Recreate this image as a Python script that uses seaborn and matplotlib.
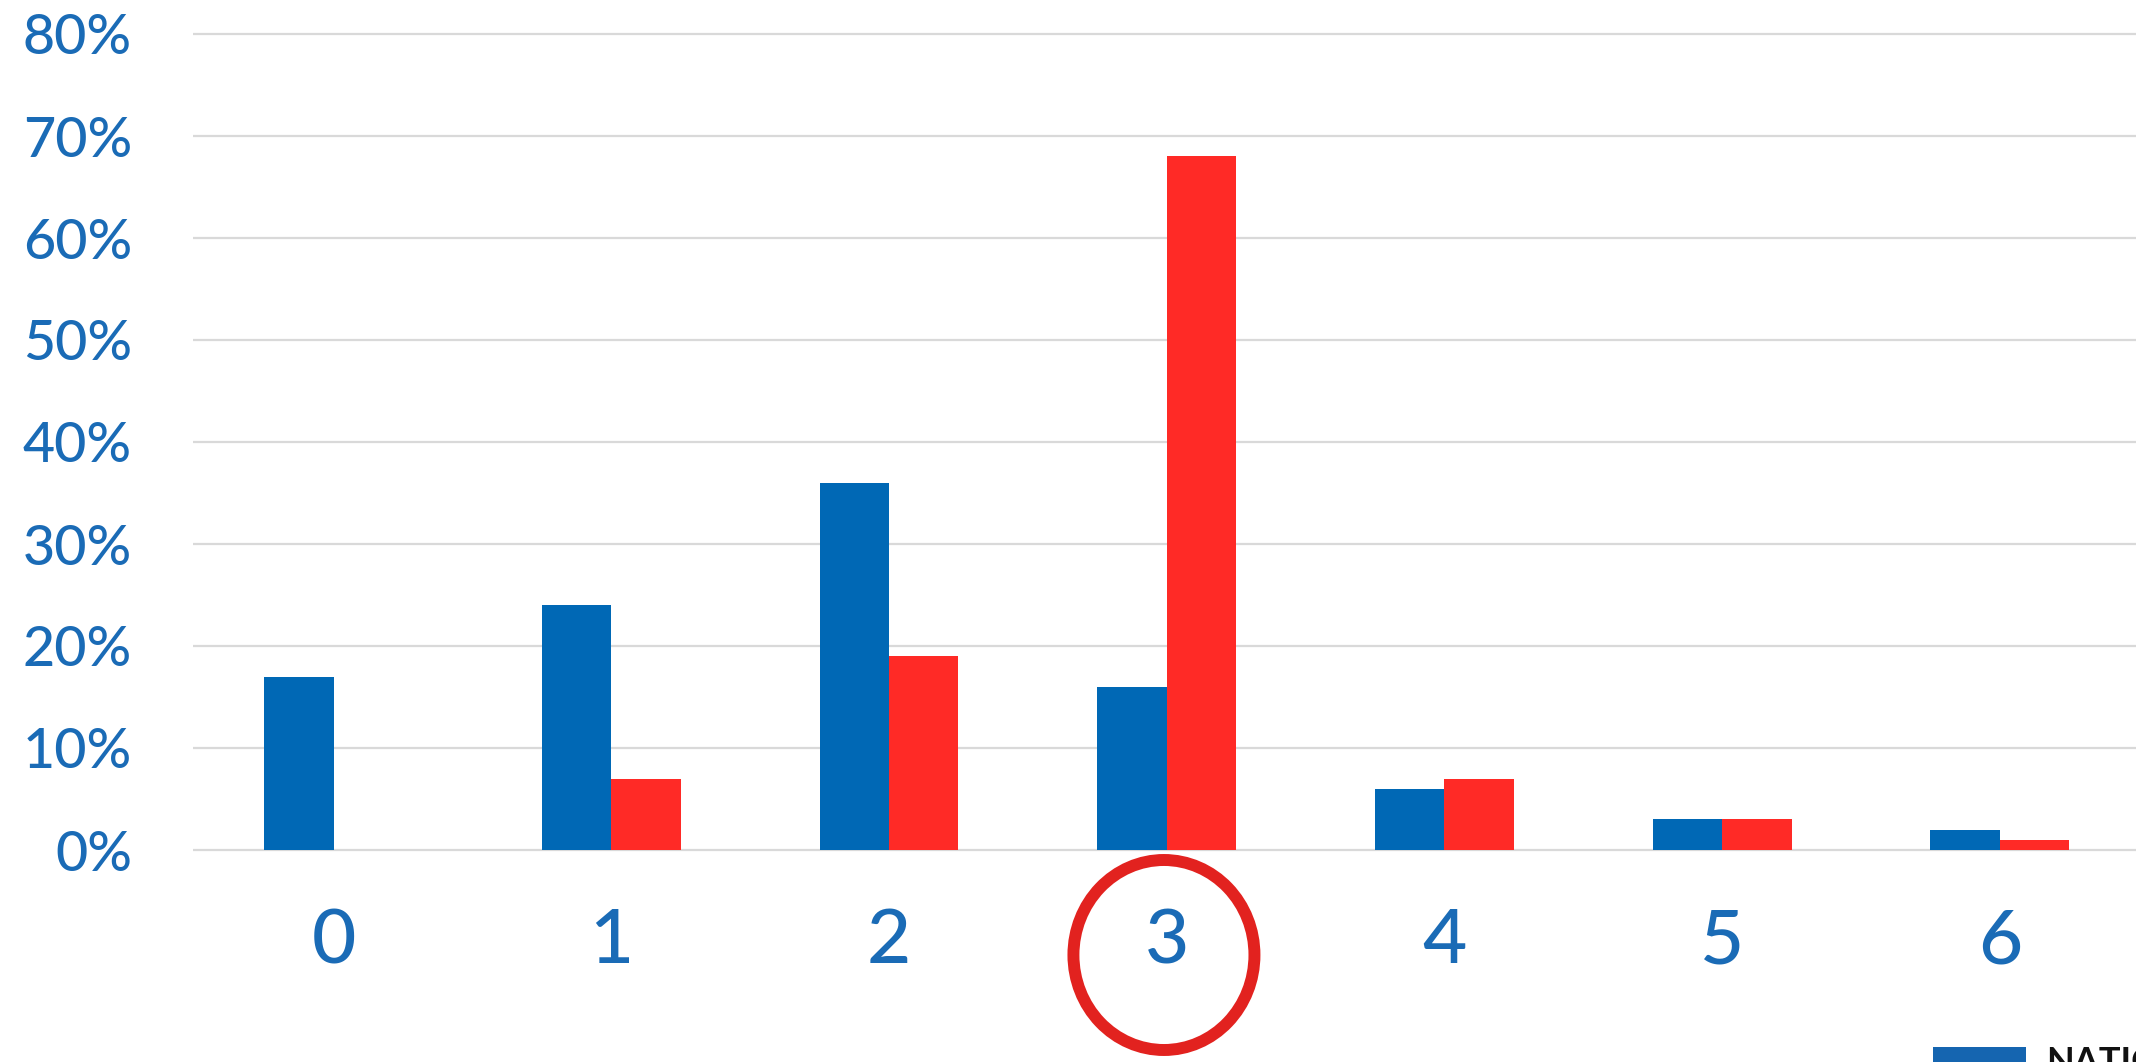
import matplotlib
matplotlib.use("Agg")
import matplotlib.pyplot as plt
import matplotlib.transforms as mtransforms
from matplotlib.patches import Ellipse, Rectangle
import pandas as pd
import seaborn as sns

# Category labels along the x axis
categories = ["0", "1", "2", "3", "4", "5", "6"]
# Shares per category for the two series
blue_values = [0.17, 0.24, 0.36, 0.16, 0.06, 0.03, 0.02]
red_values = [0.00, 0.07, 0.19, 0.68, 0.07, 0.03, 0.01]
series_names = ["first", "second"]
y_ticks = [0.0, 0.1, 0.2, 0.3, 0.4, 0.5, 0.6, 0.7, 0.8]
y_tick_labels = ["0%", "10%", "20%", "30%", "40%", "50%", "60%", "70%", "80%"]
highlight_category = "3"
logo_text = "NATIONAL"

BLUE = "#0068B5"
RED = "#FF2A26"
LABEL_BLUE = "#1A6BB6"
GRID = "#D9D9D9"
CIRCLE_RED = "#E2221F"

df = pd.DataFrame({
    "category": categories * 2,
    "share": blue_values + red_values,
    "series": [series_names[0]] * len(categories) + [series_names[1]] * len(categories),
})

sns.set_theme(style="white")
plt.rcParams["font.family"] = ["Lato", "DejaVu Sans"]

W, H = 2136, 1062
fig = plt.figure(figsize=(W / 100, H / 100), dpi=100)
fig.patch.set_facecolor("white")

# axes placement in pixels
left_px, right_px = 193, 2136
y0_px, unit_px = 850, 1020.0  # pixel row of 0% and pixels per 100%
ymin, ymax = -0.01, 0.81
bottom_px = y0_px - ymin * unit_px
top_px = y0_px - ymax * unit_px
ax = fig.add_axes([left_px / W, 1 - bottom_px / H,
                   (right_px - left_px) / W, (bottom_px - top_px) / H])

sns.barplot(data=df, x="category", y="share", hue="series", order=categories,
            hue_order=series_names, palette=[BLUE, RED], width=0.5,
            linewidth=0, saturation=1, legend=False, ax=ax)

ax.set_xlim(-0.506, 6.49)
ax.set_ylim(ymin, ymax)
ax.set_yticks(y_ticks)
ax.set_yticklabels(y_tick_labels)
ax.set_xlabel("")
ax.set_ylabel("")
ax.set_axisbelow(True)
ax.yaxis.grid(True, color=GRID, linewidth=1.6)
ax.xaxis.grid(False)
for s in ax.spines.values():
    s.set_visible(False)
ax.tick_params(axis="y", length=0, pad=44, labelsize=40, labelcolor=LABEL_BLUE)
ax.tick_params(axis="x", length=0, pad=34, labelsize=55, labelcolor=LABEL_BLUE)
for lab in ax.get_xticklabels() + ax.get_yticklabels():
    lab.set_fontweight("medium")

# ring around the highlighted category label
hx = categories.index(highlight_category)
blend = mtransforms.blended_transform_factory(ax.transData, fig.transFigure)
ring = Ellipse((hx - 0.01, 1 - 955 / H), width=181 / 277.7, height=190 / H,
               transform=blend, fill=False, edgecolor=CIRCLE_RED,
               linewidth=8.6, clip_on=False)
fig.add_artist(ring)

# logo in the lower right corner
fig.add_artist(Rectangle((1933 / W, 0), 93 / W, 15 / H, transform=fig.transFigure,
                         facecolor="#1565B0", edgecolor="none"))
fig.text(2046 / W, 1 - 1046 / H, logo_text, ha="left", va="top",
         fontsize=26, fontweight="bold", color="#111111")

fig.savefig("out.png", dpi=100, facecolor="white")
